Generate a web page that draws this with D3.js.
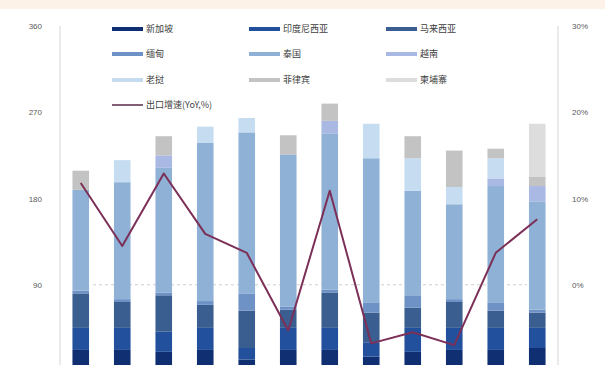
<!DOCTYPE html>
<html>
<head>
<meta charset="utf-8">
<script src="https://cdn.jsdelivr.net/npm/d3@7"></script>
<style>
  html, body { margin: 0; padding: 0; background: #ffffff; }
  svg { display: block; font-family: "Noto Sans CJK SC", "Noto Sans", sans-serif; }
</style>
</head>
<body>
<svg id="chart" width="605" height="365"></svg>
<script>
// Monthly categories
const months = ["1月","2月","3月","4月","5月","6月","7月","8月","9月","10月","11月","12月"];

// Stacked series, bottom to top
const seriesNames = ["新加坡","印度尼西亚","马来西亚","缅甸","泰国","越南","老挝","菲律宾","柬埔寨"];
const sgp = [22, 22, 20, 22, 12, 22, 22, 15, 20, 22, 22, 24];
const idn = [23, 23, 21, 23, 12, 23, 23, 15, 25, 23, 23, 21];
const mys = [36, 27, 38, 24, 39, 19, 37, 31, 21, 27, 18, 16];
const mmr = [3, 3, 3, 4, 18, 3, 3, 10, 13, 3, 8, 3];
const tha = [105, 122, 130, 165, 168, 159, 163, 151, 109, 99, 122, 113];
const vnm = [0, 0, 13, 0, 0, 0, 13, 0, 0, 0, 8, 16];
const lao = [0, 23, 0, 17, 15, 0, 0, 36, 34, 18, 21, 0];
const phl = [20, 0, 20, 0, 0, 20, 18, 0, 23, 38, 10, 10];
const khm = [0, 0, 0, 0, 0, 0, 0, 0, 0, 0, 0, 55];
const seriesValues = [sgp, idn, mys, mmr, tha, vnm, lao, phl, khm];
const seriesColors = ["#0f2f72", "#22509c", "#3a5e8f", "#6f92c6", "#8fb1d6", "#aab8e4", "#c6dcf1", "#c3c3c3", "#dddddd"];

// Line series (right axis, %)
const lineName = "出口增速(YoY,%)";
const growth = [11.8, 4.5, 12.9, 5.9, 3.7, -5.3, 10.9, -6.8, -5.5, -7.0, 3.7, 7.6];

// Axis ticks
const leftTicks = [0, 90, 180, 270, 360];
const rightTicks = [-10, 0, 10, 20, 30];

const svg = d3.select("#chart");
const W = 605, H = 365;
const plot = { left: 60, right: 558, top: 26, bottom: 371 };

// Warm band across the top edge
svg.append("rect").attr("x", 0).attr("y", 0).attr("width", W).attr("height", 9).attr("fill", "#fdf2e8");

const x = d3.scaleBand().domain(months).range([plot.left, plot.right]).paddingInner(0.6).paddingOuter(0.3);
const yL = d3.scaleLinear().domain([0, 360]).range([plot.bottom, plot.top]);
const yR = d3.scaleLinear().domain([-10, 30]).range([plot.bottom, plot.top]);

// Axis frame lines
svg.append("line").attr("x1", plot.left).attr("x2", plot.left).attr("y1", plot.top).attr("y2", H)
  .attr("stroke", "#dcdcdc").attr("stroke-width", 1.2);
svg.append("line").attr("x1", plot.right).attr("x2", plot.right).attr("y1", plot.top).attr("y2", H)
  .attr("stroke", "#dcdcdc").attr("stroke-width", 1.2);

// Zero reference line for the growth axis, behind the bars
svg.append("line").attr("x1", plot.left + 33).attr("x2", plot.right - 31)
  .attr("y1", yR(0)).attr("y2", yR(0))
  .attr("stroke", "#cfcfcf").attr("stroke-width", 1.2).attr("stroke-dasharray", "3,3");

// Build stacked table
const table = months.map((m, i) => {
  const row = { month: m };
  seriesNames.forEach((s, k) => { row[s] = seriesValues[k][i]; });
  return row;
});
const stacked = d3.stack().keys(seriesNames)(table);

svg.append("g").selectAll("g").data(stacked).join("g")
  .attr("fill", (d, k) => seriesColors[k])
  .selectAll("rect").data(d => d).join("rect")
  .attr("x", d => x(d.data.month))
  .attr("width", x.bandwidth())
  .attr("y", d => yL(d[1]))
  .attr("height", d => Math.max(0, yL(d[0]) - yL(d[1])));

// Growth line
const line = d3.line().x((d, i) => x(months[i]) + x.bandwidth() / 2).y(d => yR(d));
svg.append("path").datum(growth).attr("d", line)
  .attr("fill", "none").attr("stroke", "#7c2f57").attr("stroke-width", 2).attr("stroke-linejoin", "round");

// Left axis
const axL = d3.axisLeft(yL).tickValues(leftTicks.filter(v => v > 0)).tickSize(0).tickPadding(0);
const gL = svg.append("g").attr("transform", `translate(${plot.left - 18},0)`).call(axL);
gL.select(".domain").remove();
gL.selectAll("text").attr("font-size", 8).attr("fill", "#595959").attr("font-family", "Liberation Sans, Arial, sans-serif");

// Right axis
const axR = d3.axisRight(yR).tickValues(rightTicks.filter(v => v >= 0)).tickFormat(d => d + "%").tickSize(0).tickPadding(0);
const gR = svg.append("g").attr("transform", `translate(${plot.right + 14},0)`).call(axR);
gR.select(".domain").remove();
gR.selectAll("text").attr("font-size", 8).attr("fill", "#595959").attr("font-family", "Liberation Sans, Arial, sans-serif");

// Legend
const legCols = [112, 249, 386];
const legRows = [29, 54, 80, 105];
const leg = svg.append("g");
seriesNames.forEach((s, k) => {
  const cx = legCols[k % 3], cy = legRows[Math.floor(k / 3)];
  leg.append("rect").attr("x", cx).attr("y", cy - 2).attr("width", 31).attr("height", 4).attr("fill", seriesColors[k]);
  leg.append("text").attr("x", cx + 34).attr("y", cy).attr("dy", "0.35em")
    .attr("font-size", 9).attr("fill", "#404040").text(s);
});
leg.append("line").attr("x1", legCols[0]).attr("x2", legCols[0] + 31)
  .attr("y1", legRows[3]).attr("y2", legRows[3]).attr("stroke", "#5a2a48").attr("stroke-width", 1.5);
leg.append("text").attr("x", legCols[0] + 34).attr("y", legRows[3]).attr("dy", "0.35em")
  .attr("font-size", 9).attr("fill", "#404040").text(lineName);
</script>
</body>
</html>
